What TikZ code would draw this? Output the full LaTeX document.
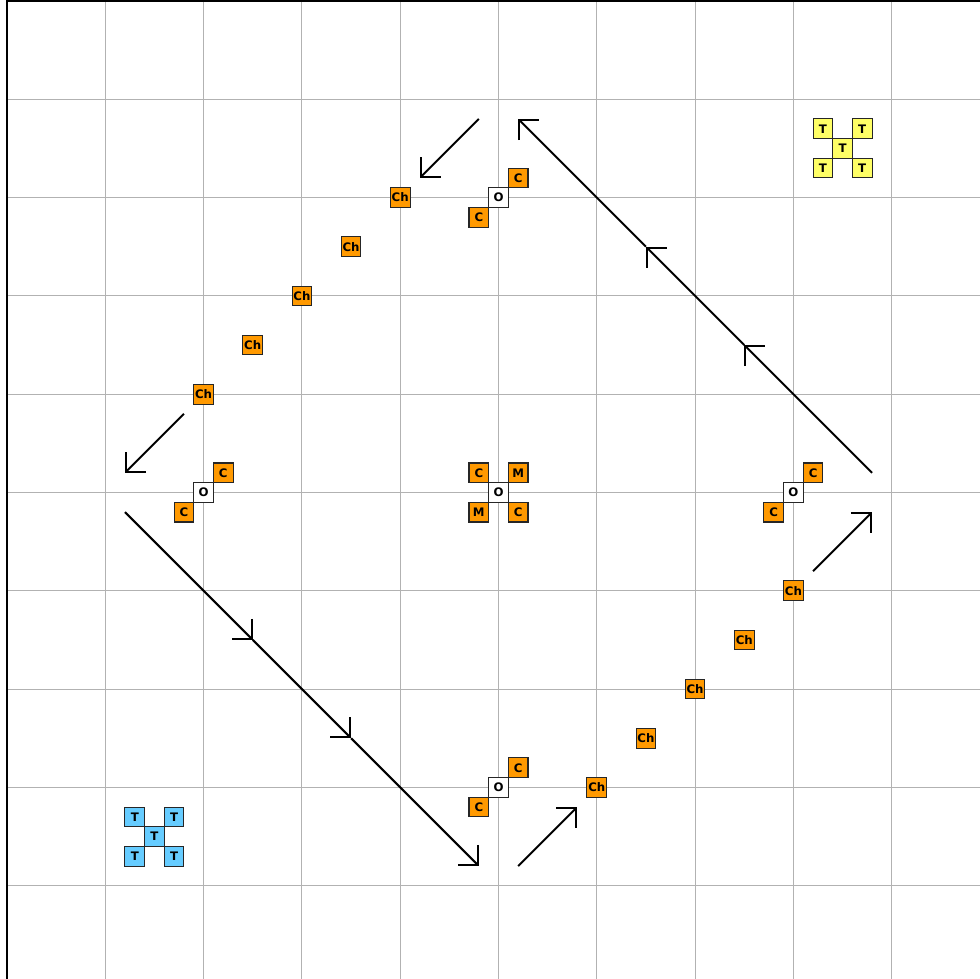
\documentclass[tikz,border=0pt]{standalone}
\usepackage{fontspec}
\setsansfont{DejaVu Sans}
\usetikzlibrary{arrows.meta}
\definecolor{orng}{RGB}{255,153,0}
\definecolor{yel}{RGB}{255,255,102}
\definecolor{sky}{RGB}{102,204,255}
\definecolor{gridgray}{RGB}{178,178,178}
\begin{document}
\begin{tikzpicture}[x=1cm,y=-1cm,
  box/.style={draw=black!85, line width=0.3pt, minimum size=0.2cm, inner sep=0pt,
    font=\sffamily\bfseries\fontsize{3.4}{4}\selectfont},
  cbox/.style={box, fill=orng},
  obox/.style={box, fill=white},
  ybox/.style={box, fill=yel},
  tbox/.style={box, fill=sky},
  tipshape/.tip={Straight Barb[angle=90:5.8pt]},
  flow/.style={line width=0.6pt, -tipshape},
  gridline/.style={gridgray, line width=0.35pt}]
\useasboundingbox (-0.071,-0.01) rectangle (9.898,9.949);
% grid
\foreach \i in {1,...,9} {
  \draw[gridline] (\i,0) -- (\i,9.949);
  \draw[gridline] (0,\i) -- (9.898,\i);
}
\draw[line width=0.7pt] (0,9.949) -- (0,0) -- (9.898,0);

% yellow T cluster
\node[ybox] (yc) at (8.5,1.5) {T};
\node[ybox] (y1) at (8.3,1.3) {T};
\node[ybox] (y2) at (8.7,1.3) {T};
\node[ybox] (y3) at (8.3,1.7) {T};
\node[ybox] (y4) at (8.7,1.7) {T};
% blue T cluster
\node[tbox] (bc) at (1.5,8.5) {T};
\node[tbox] (b1) at (1.3,8.3) {T};
\node[tbox] (b2) at (1.7,8.3) {T};
\node[tbox] (b3) at (1.3,8.7) {T};
\node[tbox] (b4) at (1.7,8.7) {T};

% top O-C
\node[obox] (ot) at (5,2) {O};
\node[cbox] (ot1) at (5.2,1.8) {C};
\node[cbox] (ot2) at (4.8,2.2) {C};
% left O-C
\node[obox] (ol) at (2,5) {O};
\node[cbox] (ol1) at (2.2,4.8) {C};
\node[cbox] (ol2) at (1.8,5.2) {C};
% right O-C
\node[obox] (or) at (8,5) {O};
\node[cbox] (or1) at (8.2,4.8) {C};
\node[cbox] (or2) at (7.8,5.2) {C};
% bottom O-C
\node[obox] (ob) at (5,8) {O};
\node[cbox] (ob1) at (5.2,7.8) {C};
\node[cbox] (ob2) at (4.8,8.2) {C};
% centre
\node[obox] (oc) at (5,5) {O};
\node[cbox] (oc1) at (4.8,4.8) {C};
\node[cbox] (oc2) at (5.2,4.8) {M};
\node[cbox] (oc3) at (4.8,5.2) {M};
\node[cbox] (oc4) at (5.2,5.2) {C};

% Ch chains
\node[cbox] (h1) at (4,2) {Ch};
\node[cbox] (h2) at (3.5,2.5) {Ch};
\node[cbox] (h3) at (3,3) {Ch};
\node[cbox] (h4) at (2.5,3.5) {Ch};
\node[cbox] (h5) at (2,4) {Ch};
\node[cbox] (k1) at (6,8) {Ch};
\node[cbox] (k2) at (6.5,7.5) {Ch};
\node[cbox] (k3) at (7,7) {Ch};
\node[cbox] (k4) at (7.5,6.5) {Ch};
\node[cbox] (k5) at (8,6) {Ch};

% arrow end points
\coordinate (a1s) at (4.8,1.2); \coordinate (a1e) at (4.2,1.8);
\coordinate (a2s) at (1.8,4.2); \coordinate (a2e) at (1.2,4.8);
\coordinate (a3s) at (8.2,5.8); \coordinate (a3e) at (8.8,5.2);
\coordinate (a4s) at (5.2,8.8); \coordinate (a4e) at (5.8,8.2);
\coordinate (l1s) at (8.8,4.8); \coordinate (l1a) at (7.5,3.5);
\coordinate (l1b) at (6.5,2.5); \coordinate (l1e) at (5.2,1.2);
\coordinate (l2s) at (1.2,5.2); \coordinate (l2a) at (2.5,6.5);
\coordinate (l2b) at (3.5,7.5); \coordinate (l2e) at (4.8,8.8);

\draw[flow] (a1s) -- (a1e);
\draw[flow] (a2s) -- (a2e);
\draw[flow] (a3s) -- (a3e);
\draw[flow] (a4s) -- (a4e);
\draw[flow] (l1s) -- (l1a);
\draw[flow] (l1a) -- (l1b);
\draw[flow] (l1b) -- (l1e);
\draw[flow] (l2s) -- (l2a);
\draw[flow] (l2a) -- (l2b);
\draw[flow] (l2b) -- (l2e);
\end{tikzpicture}
\end{document}
